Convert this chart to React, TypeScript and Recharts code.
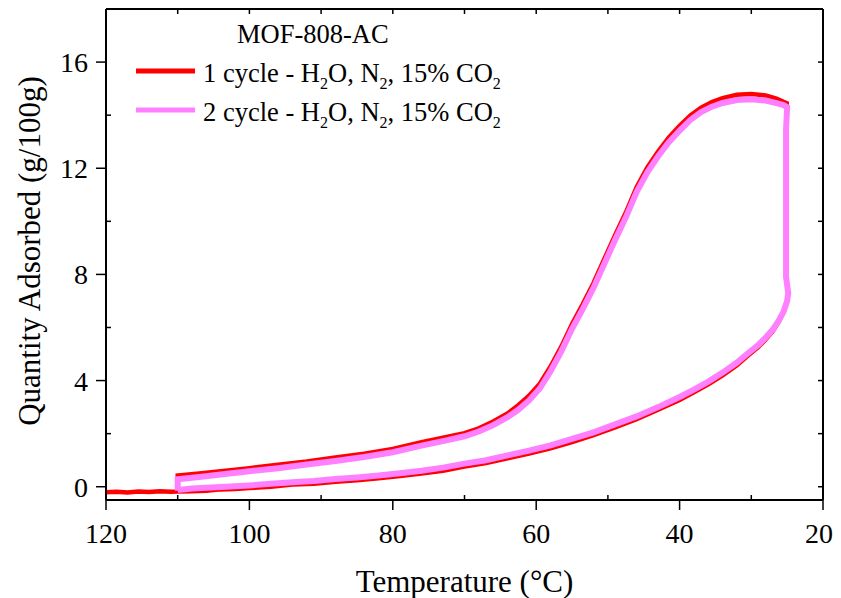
import React from "react";
import { LineChart, Line, XAxis, YAxis } from "recharts";

const FONT = '"Liberation Serif", "Times New Roman", Times, serif';

// Cycle 1: 120 °C baseline, cooling branch, isothermal step at 25 °C, heating branch, step at 110 °C
const cycle1Temp = [
  120, 118.5, 117, 115.5, 114, 112.5, 111, 110,
  108, 106, 104, 102, 100, 97, 94, 91, 88, 85, 82, 79, 76, 73, 70, 67, 64, 61, 58, 55, 52, 49, 46, 43, 40,
  38, 36, 34, 32, 30.5, 29, 28, 27, 26.2, 25.5, 25,
  24.85, 25.15, 25.15, 25.15, 25.05,
  25.5, 26.5, 28, 30, 32, 34, 35.5, 37, 38.5, 40, 41.5, 43, 44.5, 46, 47.5, 49, 50.5, 52, 53.5, 55, 56.5,
  58, 59.5, 61, 62.5, 64, 66, 68, 70, 73, 76, 80, 84, 88, 92, 96, 100, 104, 107, 110, 110,
];
const cycle1Qty = [
  -0.21, -0.19, -0.22, -0.18, -0.2, -0.17, -0.19, -0.18,
  -0.17, -0.15, -0.1, -0.09, -0.05, 0.0, 0.08, 0.11, 0.19, 0.24, 0.32, 0.4, 0.5, 0.6, 0.76, 0.89, 1.07, 1.25,
  1.45, 1.68, 1.94, 2.24, 2.55, 2.9, 3.27,
  3.56, 3.86, 4.2, 4.58, 4.93, 5.27, 5.55, 5.86, 6.2, 6.58, 7.0,
  7.3, 7.9, 10.0, 12.5, 14.45,
  14.5, 14.62, 14.74, 14.8, 14.77, 14.64, 14.49, 14.28, 13.99, 13.6, 13.16, 12.63, 12.03, 11.28, 10.33, 9.48,
  8.58, 7.68, 6.88, 6.13, 5.28, 4.53, 3.88, 3.43, 3.07, 2.76, 2.46, 2.2, 2.02, 1.85, 1.68, 1.42, 1.24, 1.1,
  0.95, 0.83, 0.7, 0.58, 0.5, 0.42, -0.12,
];

// Cycle 2: starts at 110 °C
const cycle2Temp = [
  110, 108, 106, 104, 102, 100, 97, 94, 91, 88, 85, 82, 79, 76, 73, 70, 67, 64, 61, 58, 55, 52, 49, 46, 43, 40,
  38, 36, 34, 32, 30.5, 29, 28, 27, 26.2, 25.5, 25,
  24.85, 25.15, 25.15, 25.15, 25.15,
  25, 25.5, 26.5, 28, 30, 32, 34, 35.5, 37, 38.5, 40, 41.5, 43, 44.5, 46, 47.5, 49, 50.5, 52, 53.5, 55, 56.5,
  58, 59.5, 61, 62.5, 64, 66, 68, 70, 73, 76, 80, 84, 88, 92, 96, 100, 104, 107, 110, 110,
];
const cycle2Qty = [
  -0.12, -0.07, -0.04, -0.01, 0.02, 0.05, 0.11, 0.17, 0.22, 0.29, 0.35, 0.42, 0.51, 0.6, 0.72, 0.87, 1.0, 1.18,
  1.36, 1.56, 1.8, 2.05, 2.35, 2.65, 3.0, 3.38,
  3.66, 3.96, 4.3, 4.68, 5.02, 5.35, 5.62, 5.92, 6.25, 6.6, 7.0,
  7.3, 7.9, 9.5, 11.5, 13.5,
  14.3, 14.38, 14.45, 14.55, 14.6, 14.57, 14.46, 14.32, 14.12, 13.82, 13.42, 12.98, 12.45, 11.85, 11.1, 10.15,
  9.3, 8.4, 7.5, 6.7, 5.95, 5.1, 4.35, 3.7, 3.25, 2.9, 2.62, 2.32, 2.08, 1.9, 1.72, 1.55, 1.3, 1.12, 0.97,
  0.84, 0.7, 0.58, 0.46, 0.37, 0.28, -0.15,
];

const xTicks = [120, 110, 100, 90, 80, 70, 60, 50, 40, 30, 20];
const yTicks = [0, 2, 4, 6, 8, 10, 12, 14, 16];

const legendTitle = "MOF-808-AC";
const seriesNames = ["1 cycle", "2 cycle"];
const seriesColors = ["#FF0000", "#FF80FF"];
const seriesWidths = [4.5, 6];

const toRows = (t: number[], q: number[]) => t.map((v, i) => ({ t: v, q: q[i] }));
const cycle1Data = toRows(cycle1Temp, cycle1Qty);
const cycle2Data = toRows(cycle2Temp, cycle2Qty);

// fits the body's content box (841 - 2 * 8 px)
const W = 825;
const H = 590;

const BottomTick = (props: any) => {
  const { x, y, payload } = props;
  const v = payload.value;
  const major = v % 20 === 0;
  // keep the last label inside the drawing surface
  const labelX = Math.min(x, W - 14);
  return (
    <g>
      <line x1={x} x2={x} y1={y} y2={major ? y + 10 : y - 5} stroke="#000" strokeWidth={1.5} />
      {major && (
        <text x={labelX} y={y + 43} textAnchor="middle" fontSize={28} fontFamily={FONT} fill="#000">
          {v}
        </text>
      )}
    </g>
  );
};

const TopTick = (props: any) => {
  const { x, y } = props;
  return <line x1={x} x2={x} y1={y} y2={y + 5} stroke="#000" strokeWidth={1.5} />;
};

const LeftTick = (props: any) => {
  const { x, y, payload } = props;
  const v = payload.value;
  const major = v % 4 === 0;
  return (
    <g>
      <line x1={x} x2={major ? x - 10 : x + 5} y1={y} y2={y} stroke="#000" strokeWidth={1.5} />
      {major && (
        <text x={x - 18} y={y + 10} textAnchor="end" fontSize={28} fontFamily={FONT} fill="#000">
          {v}
        </text>
      )}
    </g>
  );
};

const RightTick = (props: any) => {
  const { x, y } = props;
  return <line x1={x} x2={x - 5} y1={y} y2={y} stroke="#000" strokeWidth={1.5} />;
};

const XTitle = (props: any) => {
  const { viewBox } = props;
  return (
    <text
      x={viewBox.x + viewBox.width / 2}
      y={viewBox.y + 92}
      textAnchor="middle"
      fontSize={31}
      fontFamily={FONT}
      fill="#000"
    >
      Temperature (°C)
    </text>
  );
};

const YTitle = (props: any) => {
  const { viewBox } = props;
  const cx = 32;
  const cy = viewBox.y + viewBox.height / 2 - 3.5;
  return (
    <text
      x={cx}
      y={cy}
      transform={`rotate(-90 ${cx} ${cy})`}
      textAnchor="middle"
      fontSize={31}
      fontFamily={FONT}
      fill="#000"
    >
      Quantity Adsorbed (g/100g)
    </text>
  );
};

const LegendLabel = ({ name, y }: { name: string; y: number }) => (
  <text x={83} y={y} fontSize={26.5} fontFamily={FONT} fill="#000">
    {name} - H
    <tspan fontSize={16} dy={7}>2</tspan>
    <tspan dy={-7}>O, N</tspan>
    <tspan fontSize={16} dy={7}>2</tspan>
    <tspan dy={-7}>, 15% CO</tspan>
    <tspan fontSize={16} dy={7}>2</tspan>
  </text>
);

const ChartLegend = () => (
  <svg
    width={400}
    height={125}
    style={{ position: "absolute", left: 112, top: 2, pointerEvents: "none" }}
  >
    <text x={117} y={33} fontSize={26.5} fontFamily={FONT} fill="#000">
      {legendTitle}
    </text>
    {seriesNames.map((name, i) => (
      <g key={name}>
        <line
          x1={16}
          x2={75}
          y1={61 + i * 39}
          y2={61 + i * 39}
          stroke={seriesColors[i]}
          strokeWidth={5}
        />
        <LegendLabel name={name} y={72 + i * 39} />
      </g>
    ))}
  </svg>
);

export default function App() {
  return (
    <div style={{ position: "relative", width: W, height: H }}>
      <LineChart width={W} height={H} margin={{ top: 0, right: 0, bottom: 0, left: 0 }}>
        <XAxis
          xAxisId="x"
          type="number"
          dataKey="t"
          domain={[20, 120]}
          reversed
          allowDataOverflow
          ticks={xTicks}
          interval={0}
          height={98}
          tickSize={0}
          tickMargin={0}
          tickLine={false}
          tick={<BottomTick />}
          axisLine={{ stroke: "#000", strokeWidth: 2 }}
          label={<XTitle />}
        />
        <XAxis
          xAxisId="top"
          orientation="top"
          type="number"
          dataKey="t"
          domain={[20, 120]}
          reversed
          allowDataOverflow
          ticks={xTicks}
          interval={0}
          height={1}
          tickSize={0}
          tickMargin={0}
          tickLine={false}
          tick={<TopTick />}
          axisLine={{ stroke: "#000", strokeWidth: 2 }}
        />
        <YAxis
          yAxisId="y"
          type="number"
          domain={[-0.5, 18]}
          allowDataOverflow
          ticks={yTicks}
          interval={0}
          width={98}
          tickSize={0}
          tickMargin={0}
          tickLine={false}
          tick={<LeftTick />}
          axisLine={{ stroke: "#000", strokeWidth: 2 }}
          label={<YTitle />}
        />
        <YAxis
          yAxisId="right"
          orientation="right"
          type="number"
          domain={[-0.5, 18]}
          allowDataOverflow
          ticks={yTicks}
          interval={0}
          width={10}
          tickSize={0}
          tickMargin={0}
          tickLine={false}
          tick={<RightTick />}
          axisLine={{ stroke: "#000", strokeWidth: 2 }}
        />
        <Line
          data={cycle1Data}
          dataKey="q"
          name={seriesNames[0]}
          xAxisId="x"
          yAxisId="y"
          type="linear"
          stroke={seriesColors[0]}
          strokeWidth={seriesWidths[0]}
          dot={false}
          activeDot={false}
          isAnimationActive={false}
        />
        <Line
          data={cycle2Data}
          dataKey="q"
          name={seriesNames[1]}
          xAxisId="x"
          yAxisId="y"
          type="linear"
          stroke={seriesColors[1]}
          strokeWidth={seriesWidths[1]}
          dot={false}
          activeDot={false}
          isAnimationActive={false}
        />
      </LineChart>
      <ChartLegend />
    </div>
  );
}
